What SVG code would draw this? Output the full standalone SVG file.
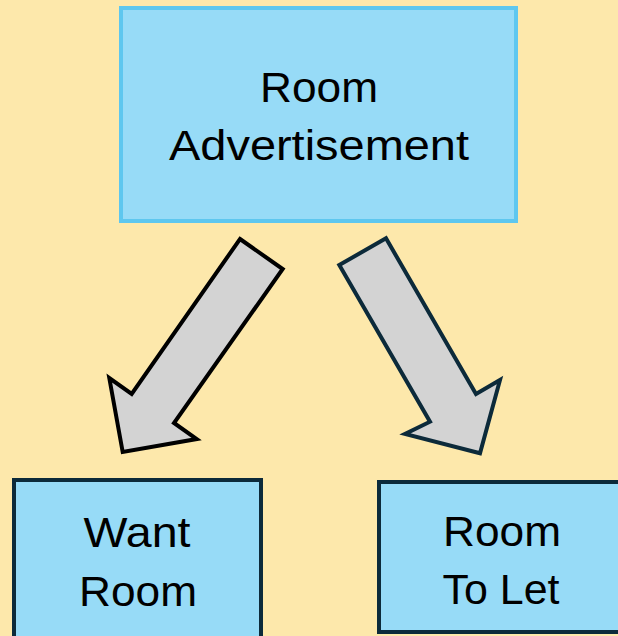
<svg xmlns="http://www.w3.org/2000/svg" width="618" height="636" viewBox="0 0 618 636">
<style>
.bg{fill:#fde8ab}
.box{fill:#97dbf7;stroke-width:4}
.top{stroke:#5ec7ef}
.dark{stroke:#0c2a3a}
.lbl{font-family:"Liberation Sans",Arial,sans-serif;font-size:43px;fill:#000;text-anchor:middle}
.arrow{fill:#d3d3d3;stroke-width:4;stroke-linejoin:miter}
</style>
<rect class="bg" x="0" y="0" width="618" height="636"/>
<g id="room-advertisement">
<rect class="box top" x="121" y="8" width="395" height="213"/>
<text class="lbl" x="319" y="102" textLength="118" lengthAdjust="spacingAndGlyphs">Room</text>
<text class="lbl" x="319" y="160" textLength="300" lengthAdjust="spacingAndGlyphs">Advertisement</text>
</g>
<g id="want-room">
<rect class="box dark" x="14" y="480" width="247" height="170"/>
<text class="lbl" x="137" y="547" textLength="107" lengthAdjust="spacingAndGlyphs">Want</text>
<text class="lbl" x="138" y="606" textLength="118" lengthAdjust="spacingAndGlyphs">Room</text>
</g>
<g id="room-to-let">
<rect class="box dark" x="379" y="482" width="250" height="150"/>
<text class="lbl" x="502" y="546" textLength="118" lengthAdjust="spacingAndGlyphs">Room</text>
<text class="lbl" x="501" y="604" textLength="117" lengthAdjust="spacingAndGlyphs">To Let</text>
</g>
<g id="connectors">
<polygon class="arrow" stroke="#000" points="240,239 282.7,269 174,423 196.7,439 122.7,452 109.3,378 131.7,394"/>
<polygon class="arrow" stroke="#0c2a3a" points="339.3,265 386,238.3 476,394 500,380 480,453.3 405,434 430,421.7"/>
</g>
</svg>
